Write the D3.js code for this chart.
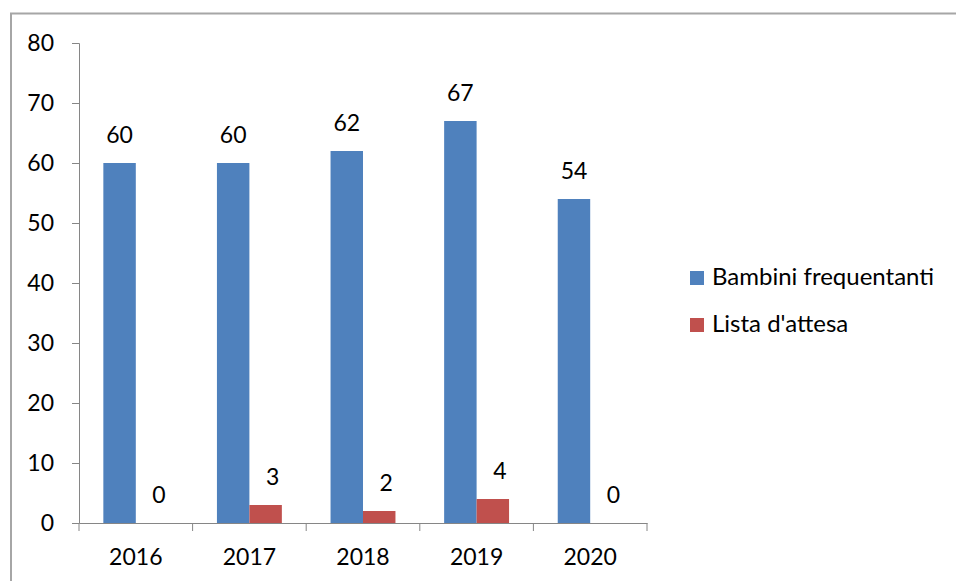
<!DOCTYPE html>
<html>
<head>
<meta charset="utf-8">
<script src="https://cdn.jsdelivr.net/npm/d3@7"></script>
<style>
  body { margin: 0; background: #fff; }
  text { font-family: Lato, "Open Sans", sans-serif; fill: #000; }
</style>
</head>
<body>
<svg width="956" height="581"></svg>
<script>
// data
var years = ["2016", "2017", "2018", "2019", "2020"];
var frequentanti = [60, 60, 62, 67, 54];
var attesa = [0, 3, 2, 4, 0];
var seriesNames = ["Bambini frequentanti", "Lista d'attesa"];
var colors = ["#4F81BD", "#C0504D"];
var yTicks = [0, 10, 20, 30, 40, 50, 60, 70, 80];

var svg = d3.select("svg");

// outer chart border (cut by the page edge on right and bottom)
svg.append("rect")
  .attr("x", 11).attr("y", 13.5)
  .attr("width", 960).attr("height", 600)
  .attr("fill", "none").attr("stroke", "#a6a6a6").attr("stroke-width", 2);

var plotLeft = 79, plotRight = 647, plotTop = 43, plotBottom = 523;
var fs = 23;

var x = d3.scaleBand().domain(years).range([plotLeft, plotRight]);
var bw = x.bandwidth() / 3.5;
var y = d3.scaleLinear().domain([0, 80]).range([plotBottom, plotTop]);

// y axis
var yAxis = svg.append("g")
  .attr("transform", "translate(" + plotLeft + ",0)")
  .call(d3.axisLeft(y).tickValues(yTicks).tickSize(7).tickPadding(18));
yAxis.select(".domain").attr("stroke", "#868686");
yAxis.selectAll(".tick line").attr("stroke", "#868686");
yAxis.selectAll(".tick text").attr("font-size", fs).attr("font-family", "Lato, sans-serif").attr("fill", "#000");

// bars
var series = [frequentanti, attesa];
var labelShift = [0, 7]; // the small red labels sit a bit right of their bars
series.forEach(function(vals, s) {
  var g = svg.append("g");
  g.selectAll("rect")
    .data(vals)
    .enter().append("rect")
    .attr("x", function(d, i) { return x(years[i]) + bw * 0.75 + s * bw; })
    .attr("y", function(d) { return y(d); })
    .attr("width", bw)
    .attr("height", function(d) { return plotBottom - y(d); })
    .attr("fill", colors[s]);
  g.selectAll("text")
    .data(vals)
    .enter().append("text")
    .attr("x", function(d, i) { return x(years[i]) + bw * 0.75 + s * bw + bw / 2 + labelShift[s]; })
    .attr("y", function(d) { return y(d) - 20; })
    .attr("text-anchor", "middle")
    .attr("font-size", fs)
    .text(function(d) { return d; });
});

// x axis
var xAxis = svg.append("g")
  .attr("transform", "translate(0," + plotBottom + ")")
  .call(d3.axisBottom(x).tickSize(0).tickPadding(0));
xAxis.select(".domain").attr("stroke", "#868686");
xAxis.selectAll(".tick text").attr("font-size", fs).attr("font-family", "Lato, sans-serif")
  .attr("fill", "#000").attr("dy", 0).attr("y", 42);
// tick marks between categories
xAxis.selectAll("line.sep")
  .data(years.concat(["end"]))
  .enter().append("line")
  .attr("class", "sep")
  .attr("x1", function(d, i) { return plotLeft + i * x.step(); })
  .attr("x2", function(d, i) { return plotLeft + i * x.step(); })
  .attr("y1", 0).attr("y2", 8)
  .attr("stroke", "#868686");

// legend
var legend = svg.append("g");
seriesNames.forEach(function(name, i) {
  legend.append("rect")
    .attr("x", 690).attr("y", 271 + i * 47)
    .attr("width", 14).attr("height", 14)
    .attr("fill", colors[i]);
  legend.append("text")
    .attr("x", 712).attr("y", 285 + i * 47)
    .attr("font-size", 24)
    .text(name);
});
</script>
</body>
</html>
